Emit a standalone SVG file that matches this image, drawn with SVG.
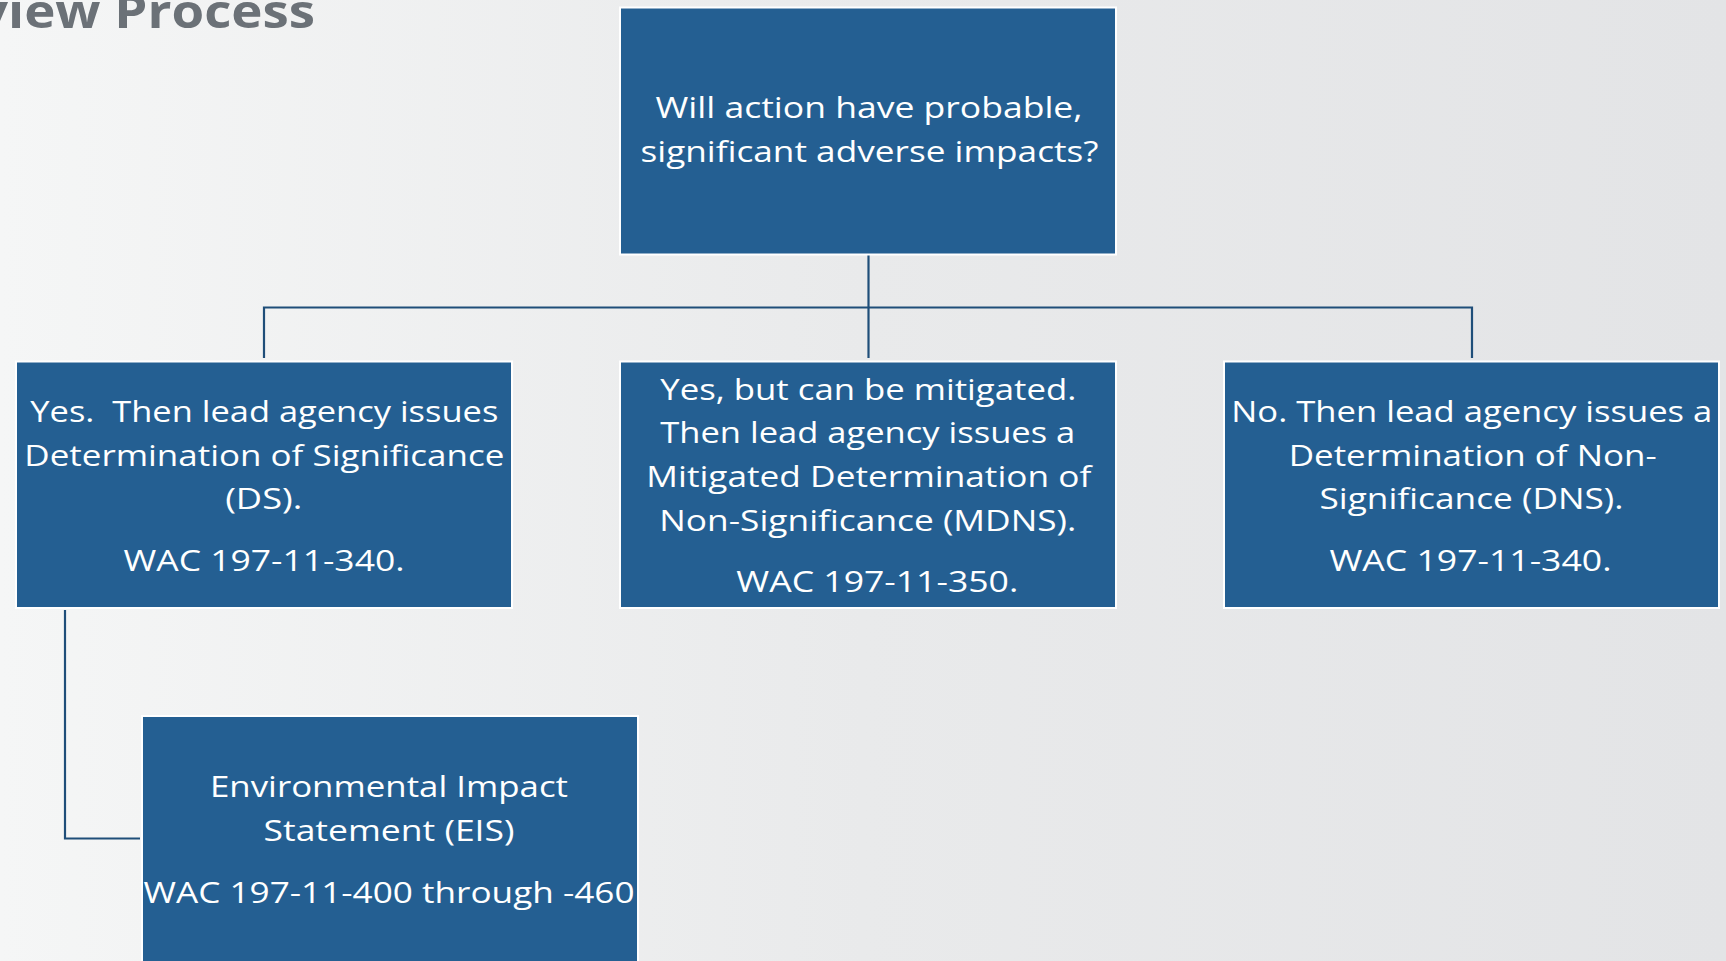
<svg xmlns="http://www.w3.org/2000/svg" width="1726" height="961" viewBox="0 0 1726 961">
<defs>
<linearGradient id="bg" x1="0" y1="0" x2="1" y2="0">
<stop offset="0" stop-color="#f5f6f6"/>
<stop offset="0.5" stop-color="#e9eaeb"/>
<stop offset="1" stop-color="#e3e4e6"/>
</linearGradient>
<style>
.box{fill:#245f92;stroke:#ffffff;stroke-width:2}
.t{font-family:"Open Sans","Noto Sans","Liberation Sans",sans-serif;font-size:29.5px;fill:#ffffff;text-anchor:middle;white-space:pre}
.title{font-family:"Open Sans","Noto Sans","Liberation Sans",sans-serif;font-size:47px;font-weight:700;fill:#6b7177}
.conn{fill:none;stroke:#1f4e79;stroke-width:2.2}
</style>
</defs>
<rect x="0" y="0" width="1726" height="961" fill="url(#bg)"/>
<text class="title" x="-22" y="28.3" textLength="337" lengthAdjust="spacingAndGlyphs">view Process</text>
<g id="connectors">
<path class="conn" d="M868.5 255 V358"/>
<path class="conn" d="M264 358 V307.5 H1472 V358"/>
<path class="conn" d="M65 610 V838.5 H140"/>
</g>
<g id="question">
<rect class="box" x="620" y="7.5" width="496" height="247"/>
<text class="t" x="869" y="118.3" textLength="427" lengthAdjust="spacingAndGlyphs">Will action have probable,</text>
<text class="t" x="869.5" y="161.7" textLength="458" lengthAdjust="spacingAndGlyphs">significant adverse impacts?</text>
</g>
<g id="ds">
<rect class="box" x="16" y="361.5" width="496" height="246.5"/>
<text class="t" x="264.3" y="421.7" textLength="468" lengthAdjust="spacingAndGlyphs">Yes.  Then lead agency issues</text>
<text class="t" x="264.3" y="466" textLength="480" lengthAdjust="spacingAndGlyphs">Determination of Significance</text>
<text class="t" x="263.7" y="509.3" textLength="77" lengthAdjust="spacingAndGlyphs">(DS).</text>
<text class="t" x="264" y="570.7" textLength="281" lengthAdjust="spacingAndGlyphs">WAC 197-11-340.</text>
</g>
<g id="mdns">
<rect class="box" x="620" y="361.5" width="496" height="246.5"/>
<text class="t" x="868.3" y="400" textLength="416" lengthAdjust="spacingAndGlyphs">Yes, but can be mitigated.</text>
<text class="t" x="867.8" y="443.3" textLength="415" lengthAdjust="spacingAndGlyphs">Then lead agency issues a</text>
<text class="t" x="868.8" y="487.3" textLength="445" lengthAdjust="spacingAndGlyphs">Mitigated Determination of</text>
<text class="t" x="867.8" y="530.7" textLength="417" lengthAdjust="spacingAndGlyphs">Non-Significance (MDNS).</text>
<text class="t" x="877.3" y="592.3" textLength="282" lengthAdjust="spacingAndGlyphs">WAC 197-11-350.</text>
</g>
<g id="dns">
<rect class="box" x="1224" y="361.5" width="495" height="246.5"/>
<text class="t" x="1471.8" y="421.7" textLength="481" lengthAdjust="spacingAndGlyphs">No. Then lead agency issues a</text>
<text class="t" x="1472.7" y="466" textLength="368" lengthAdjust="spacingAndGlyphs">Determination of Non-</text>
<text class="t" x="1471.5" y="509.3" textLength="304" lengthAdjust="spacingAndGlyphs">Significance (DNS).</text>
<text class="t" x="1470.5" y="570.7" textLength="282" lengthAdjust="spacingAndGlyphs">WAC 197-11-340.</text>
</g>
<g id="eis">
<rect class="box" x="142" y="716" width="496" height="260"/>
<text class="t" x="389" y="797" textLength="358" lengthAdjust="spacingAndGlyphs">Environmental Impact</text>
<text class="t" x="389" y="841" textLength="251" lengthAdjust="spacingAndGlyphs">Statement (EIS)</text>
<text class="t" x="389" y="902.7" textLength="491" lengthAdjust="spacingAndGlyphs">WAC 197-11-400 through -460</text>
</g>
</svg>
